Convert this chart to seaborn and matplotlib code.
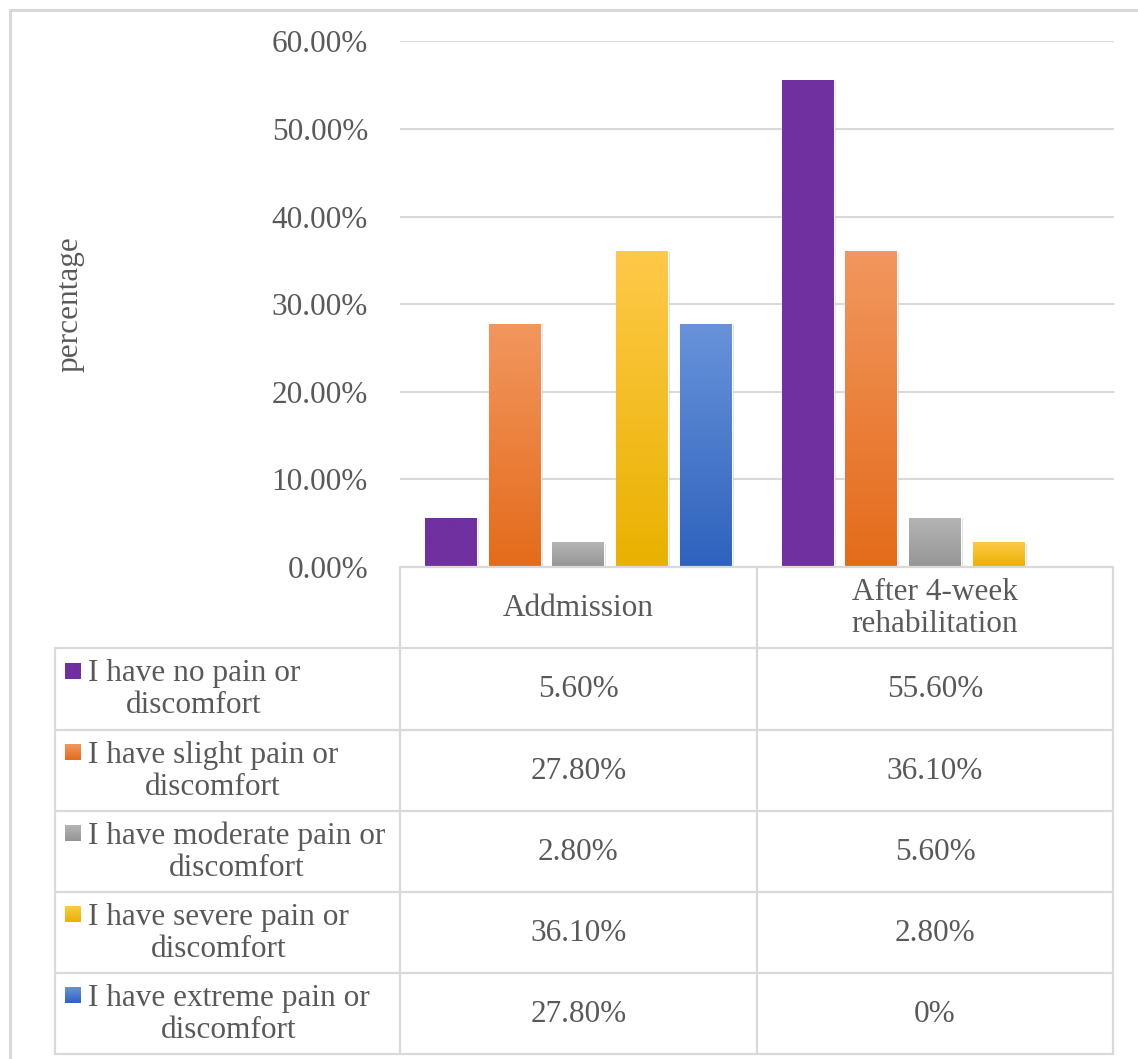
import numpy as np
import pandas as pd
import matplotlib
matplotlib.use('Agg')
import matplotlib.pyplot as plt
import matplotlib.patheffects as pe
from matplotlib.colors import LinearSegmentedColormap
from matplotlib.lines import Line2D
import seaborn as sns

# data (percent of patients)
stages = ['Addmission', 'After 4-week\nrehabilitation']
levels = ['I have no pain or\ndiscomfort',
          'I have slight pain or\ndiscomfort',
          'I have moderate pain or\ndiscomfort',
          'I have severe pain or\ndiscomfort',
          'I have extreme pain or\ndiscomfort']
admission = [5.6, 27.8, 2.8, 36.1, 27.8]
after_rehab = [55.6, 36.1, 5.6, 2.8, 0.0]
yticks = [0, 10, 20, 30, 40, 50, 60]

# bar colours: (top, bottom) of the vertical gradient
grad_colors = [('#7030A0', '#7030A0'),
               ('#F2975F', '#E46B1A'),
               ('#B5B5B5', '#959595'),
               ('#FFC949', '#E8B200'),
               ('#6893DA', '#2E62BD')]
mid_colors = ['#7030A0', '#EE7D30', '#A5A5A5', '#FDC000', '#4472C4']

rows = []
for lvl, a, b in zip(levels, admission, after_rehab):
    rows.append({'stage': stages[0], 'level': lvl, 'pct': a})
    rows.append({'stage': stages[1], 'level': lvl, 'pct': b})
df = pd.DataFrame(rows)

sns.set_style('white')
plt.rcParams['font.family'] = ['Liberation Serif', 'DejaVu Serif']
txt_col = '#595959'
line_col = '#D9D9D9'
fs = 22.5

W, H = 1138, 1059
fig = plt.figure(figsize=(W / 100, H / 100), dpi=100)
ax = fig.add_axes([400 / W, (H - 567) / H, 713.5 / W, (567 - 41.5) / H])

sns.barplot(data=df, x='stage', y='pct', hue='level', hue_order=levels,
            palette=mid_colors, saturation=1, width=0.893, gap=0.184,
            legend=False, ax=ax)

# gradient fill + soft shadow on each bar
grad = np.linspace(0, 1, 256).reshape(-1, 1)
for cont, (top, bot) in zip(ax.containers, grad_colors):
    cmap = LinearSegmentedColormap.from_list('g', [bot, top])
    for p in cont.patches:
        h = p.get_height()
        if h <= 0:
            p.set_visible(False)
            continue
        p.set_path_effects([pe.SimplePatchShadow(offset=(1.5, -1), shadow_rgbFace='#909090', alpha=0.3),
                            pe.Normal()])
        x0 = p.get_x()
        im = ax.imshow(grad, extent=[x0, x0 + p.get_width(), 0, h], origin='lower',
                       aspect='auto', cmap=cmap, zorder=p.get_zorder() + 0.1)
        im.set_clip_path(p)

ax.set_xlim(-0.5, 1.5)
ax.set_ylim(0, 60)
ax.set_yticks(yticks)
ax.set_yticklabels([f'{t:.2f}%' for t in yticks], fontsize=fs, color=txt_col)
ax.tick_params(axis='y', length=0, pad=23)
ax.set_xticks([])
ax.set_xlabel('')
ax.set_ylabel('')
ax.grid(axis='y', color=line_col, linewidth=1.5)
ax.set_axisbelow(True)
for s in ax.spines.values():
    s.set_visible(False)

fig.text(70 / W, 1 - 304.5 / H, 'percentage', rotation=90, ha='center', va='center',
         fontsize=fs, color=txt_col)

# data table under the plot, drawn on an overlay in pixel units
ov = fig.add_axes([0, 0, 1, 1], zorder=5)
ov.set_xlim(0, W)
ov.set_ylim(H, 0)
ov.axis('off')

col_x = [ax.transData.transform((v, 0))[0] for v in (-0.5, 0.5, 1.5)]
left_x = 55
row_y = [567, 648, 729.5, 811, 892, 973, 1054]
lw = 1.6

# outer chart frame
ov.add_line(Line2D([10, 10], [H, 10], color=line_col, lw=2.2))
ov.add_line(Line2D([10, W], [10, 10], color=line_col, lw=2.2))

ov.add_line(Line2D([col_x[0], col_x[2]], [row_y[0], row_y[0]], color=line_col, lw=lw))
for y in row_y[1:]:
    ov.add_line(Line2D([left_x, col_x[2]], [y, y], color=line_col, lw=lw))
for x in col_x:
    ov.add_line(Line2D([x, x], [row_y[0], row_y[-1]], color=line_col, lw=lw))
ov.add_line(Line2D([left_x, left_x], [row_y[1], row_y[-1]], color=line_col, lw=lw))

for i, st in enumerate(stages):
    ov.text((col_x[i] + col_x[i + 1]) / 2, (row_y[0] + row_y[1]) / 2 + 1, st,
            ha='center', va='center', fontsize=fs, color=txt_col, linespacing=1.18)


def fmt(v):
    return '0%' if v == 0 else f'{v:.2f}%'


for r, lvl in enumerate(levels):
    yc = (row_y[r + 1] + row_y[r + 2]) / 2
    top, bot = grad_colors[r]
    cmap = LinearSegmentedColormap.from_list('k', [top, bot])
    ov.imshow(grad, extent=[65, 81, yc - 10, yc - 26], aspect='auto', cmap=cmap, zorder=6)
    ov.text(88, yc + 1, lvl, ha='left', va='center', multialignment='center',
            fontsize=fs, color=txt_col, linespacing=1.15)
    for i, v in enumerate([admission[r], after_rehab[r]]):
        ov.text((col_x[i] + col_x[i + 1]) / 2, yc + 1, fmt(v), ha='center', va='center',
                fontsize=fs, color=txt_col)
ov.set_xlim(0, W)
ov.set_ylim(H, 0)

fig.savefig('out.png', dpi=100, facecolor='white')
